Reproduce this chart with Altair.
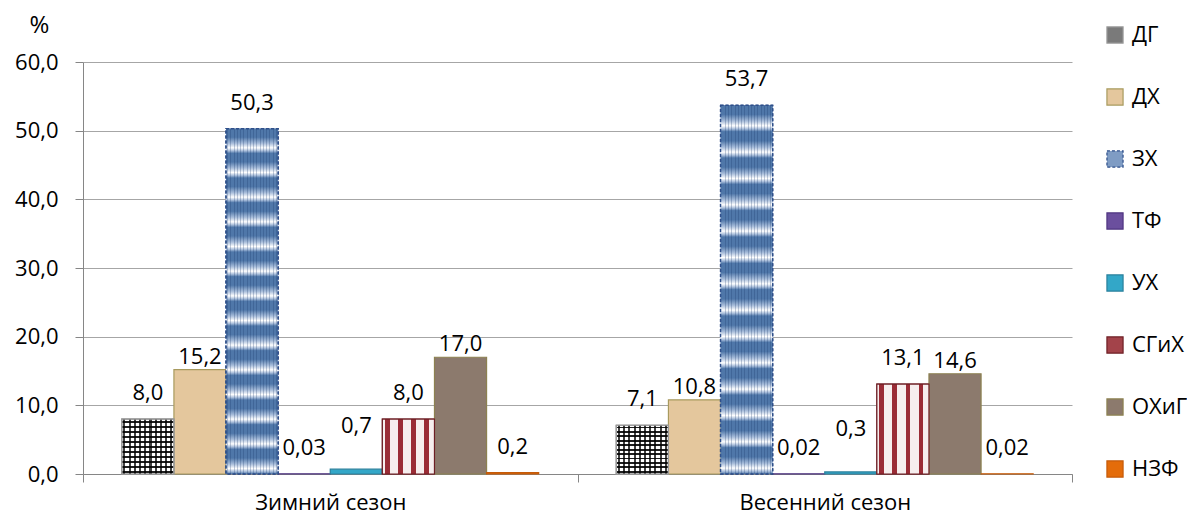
import altair as alt
import pandas as pd

seasons = ["Зимний сезон", "Весенний сезон"]
series = ["ДГ", "ДХ", "ЗХ", "ТФ", "УХ", "СГиХ", "ОХиГ", "НЗФ"]
winter = [8.0, 15.2, 50.3, 0.03, 0.7, 8.0, 17.0, 0.2]
spring = [7.1, 10.8, 53.7, 0.02, 0.3, 13.1, 14.6, 0.02]
y_ticks = [0, 10, 20, 30, 40, 50, 60]

fills = ["#7a7a7a", "#e4c79d", "#7f9cc4", "#6b4f9e", "#33a7c8", "#a3434a", "#8c7a6d", "#e46c0a"]
strokes = ["#9a9a9a", "#a89a5e", "#2f4f8a", "#4f3580", "#2a809c", "#6e1f25", "#8c8150", "#c55a08"]
dashes = [[1, 0], [1, 0], [3, 2], [1, 0], [1, 0], [1, 0], [1, 0], [1, 0]]

rows = []
for season, vals in zip(seasons, [winter, spring]):
    for s, v in zip(series, vals):
        rows.append({"season": season, "series": s, "value": v})
df = pd.DataFrame(rows)

FONT = "Open Sans"
FS = 22

x_enc = alt.X("season:N", sort=seasons, title=None,
              scale=alt.Scale(paddingInner=0, paddingOuter=0),
              axis=alt.Axis(labelAngle=0, tickBand="extent", ticks=True, tickSize=8,
                            tickColor="#868686", domainColor="#868686", grid=False,
                            labelPadding=10, labelFontSize=FS, labelFont=FONT,
                            labelColor="#000000"))
xo_enc = alt.XOffset("series:N", sort=series,
                     scale=alt.Scale(domain=series, paddingOuter=0.745, paddingInner=0))
y_enc = alt.Y("value:Q", title="%",
              scale=alt.Scale(domain=[0, 60], nice=False),
              axis=alt.Axis(values=y_ticks, grid=True, gridColor="#a6a6a6",
                            domainColor="#868686", tickColor="#868686", tickSize=8,
                            labelPadding=17, labelFontSize=FS, labelFont=FONT,
                            labelColor="#000000",
                            labelExpr="replace(format(datum.value, '.1f'), '.', ',')",
                            titleAngle=0, titleX=-44, titleY=-37, titleAlign="center",
                            titleBaseline="middle", titleFontSize=FS + 2, titleFont=FONT,
                            titleFontWeight="normal", titleColor="#000000"))

base = alt.Chart(df)

legend = alt.Legend(title=None, orient="none", legendX=1021, legendY=-38,
                    symbolType="square", symbolSize=260, labelFontSize=FS,
                    labelFont=FONT, labelColor="#000000", rowPadding=40,
                    labelOffset=6, padding=0, symbolStrokeWidth=1.2)

bars = base.mark_bar(strokeWidth=1.2).encode(
    x=x_enc, xOffset=xo_enc, y=y_enc,
    fill=alt.Fill("series:N", sort=series,
                  scale=alt.Scale(domain=series, range=fills), legend=legend),
    stroke=alt.Stroke("series:N", sort=series,
                      scale=alt.Scale(domain=series, range=strokes), legend=legend),
    strokeDash=alt.StrokeDash("series:N", sort=series,
                              scale=alt.Scale(domain=series, range=dashes), legend=legend),
)


def stripes(n, c_on, c_off, on_from, on_to, vertical):
    stops = []
    for i in range(n):
        a = i / n
        w = 1 / n
        stops += [
            alt.GradientStop(color=c_off, offset=a),
            alt.GradientStop(color=c_off, offset=a + w * on_from),
            alt.GradientStop(color=c_on, offset=a + w * on_from + 0.0001),
            alt.GradientStop(color=c_on, offset=a + w * on_to),
            alt.GradientStop(color=c_off, offset=a + w * on_to + 0.0001),
            alt.GradientStop(color=c_off, offset=min(a + w, 1.0)),
        ]
    if vertical:
        return alt.Gradient(gradient="linear", stops=stops, x1=0, x2=0, y1=0, y2=1)
    return alt.Gradient(gradient="linear", stops=stops, x1=0, x2=1, y1=0, y2=0)


def wave(n, c1, cm, c2, vertical):
    stops = []
    for i in range(n):
        a = i / n
        w = 1 / n
        stops += [
            alt.GradientStop(color=c1, offset=a),
            alt.GradientStop(color=c1, offset=a + w * 0.35),
            alt.GradientStop(color=cm, offset=a + w * 0.6),
            alt.GradientStop(color=c2, offset=a + w * 0.78),
            alt.GradientStop(color=cm, offset=a + w * 0.9),
            alt.GradientStop(color=c1, offset=min(a + w, 1.0)),
        ]
    if vertical:
        return alt.Gradient(gradient="linear", stops=stops, x1=0, x2=0, y1=0, y2=1)
    return alt.Gradient(gradient="linear", stops=stops, x1=0, x2=1, y1=0, y2=0)


def overlay(name, fill, stroke, dash=None, **kw):
    mk = dict(fill=fill, stroke=stroke, strokeWidth=1.2)
    if dash:
        mk["strokeDash"] = dash
    mk.update(kw)
    return base.transform_filter(alt.datum.series == name).mark_bar(**mk).encode(
        x=x_enc, xOffset=xo_enc, y=y_enc)


zx = overlay("ЗХ", wave(14, "#4f77a9", "#a9bedb", "#ffffff", True), "#2f4f8a", dash=[3, 2])
zx_v = overlay("ЗХ", stripes(16, "rgba(20,50,100,0.25)", "rgba(255,255,255,0)", 0.3, 0.6, False),
               "#2f4f8a", dash=[3, 2])
sg = overlay("СГиХ", stripes(4, "#9a2c36", "#f6eeee", 0.2, 0.55, False), "#6e1f25")
dg1 = overlay("ДГ", stripes(11, "rgba(0,0,0,0.75)", "rgba(255,255,255,1)", 0.3, 0.7, True), "#9a9a9a")
dg2 = overlay("ДГ", stripes(10, "rgba(0,0,0,0.75)", "rgba(255,255,255,0)", 0.3, 0.7, False), "#9a9a9a")

labels_df_expr = "replace(format(datum.value, datum.value < 0.1 ? '.2f' : '.1f'), '.', ',')"


def text_layer(names, dy):
    return base.transform_filter(
        alt.FieldOneOfPredicate(field="series", oneOf=names)
    ).transform_calculate(label=labels_df_expr).mark_text(
        dy=dy, baseline="middle", align="center", fontSize=FS, font=FONT, color="#000000"
    ).encode(x=x_enc, xOffset=xo_enc, y=y_enc, text="label:N")


t1 = text_layer(["ДГ", "ЗХ", "ТФ", "СГиХ", "НЗФ"], -26)
t2 = text_layer(["ДХ", "ОХиГ"], -13)
t3 = text_layer(["УХ"], -43)

chart = alt.layer(bars, zx, zx_v, sg, dg1, dg2, t1, t2, t3).properties(
    width=989, height=412,
    autosize=alt.AutoSizeParams(type="none"),
    padding={"left": 83, "top": 62, "right": 115, "bottom": 44},
    background="#ffffff",
).configure_view(stroke=None)

chart.save("out.html", embed_options={"renderer": "svg", "actions": False})
